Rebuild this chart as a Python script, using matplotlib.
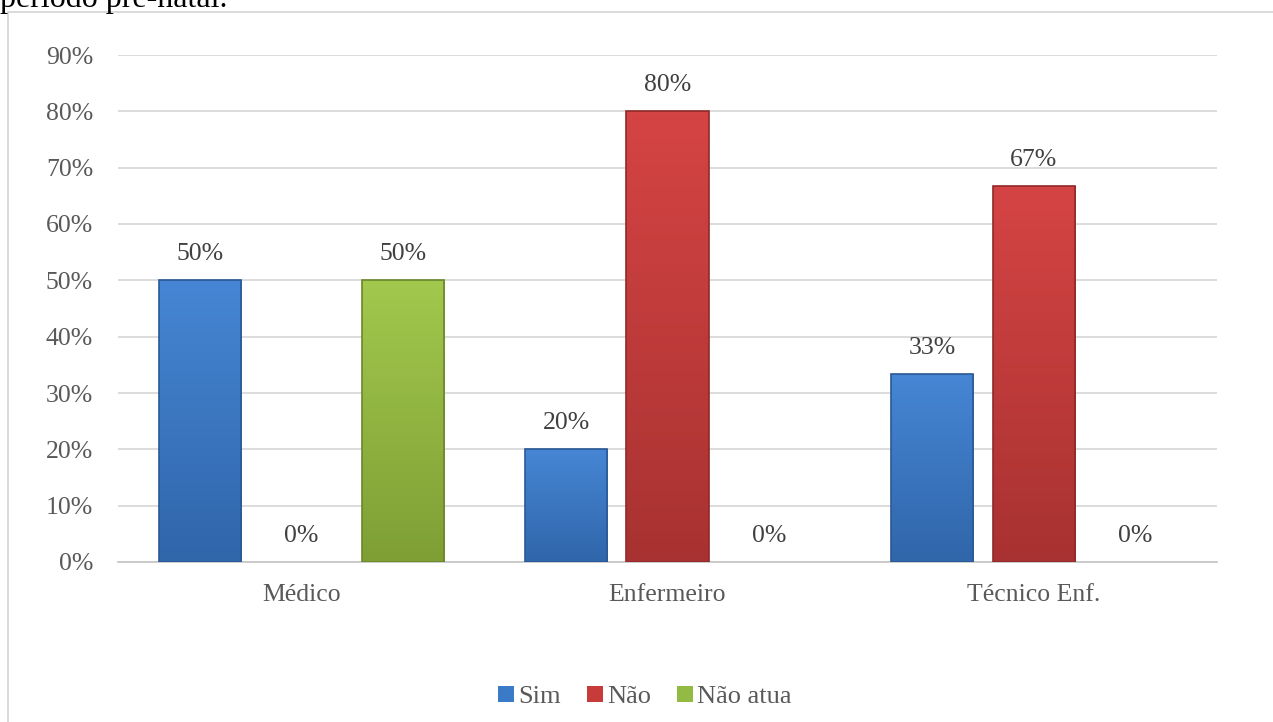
import matplotlib.pyplot as plt
from matplotlib.patches import Rectangle
from matplotlib.colors import LinearSegmentedColormap
import numpy as np

plt.rcParams['font.family'] = ['Liberation Serif', 'DejaVu Serif']

# categorias e valores (%)
categorias = ['Médico', 'Enfermeiro', 'Técnico Enf.']
sim = [50, 20, 33.3]
nao = [0, 80, 66.7]
nao_atua = [50, 0, 0]
rotulos_sim = ['50%', '20%', '33%']
rotulos_nao = ['0%', '80%', '67%']
rotulos_atua = ['50%', '0%', '0%']

# nome, valores, rótulos, cor média, topo, base, borda
series = [
    ('Sim', sim, rotulos_sim, '#3b7ac6', '#4686d4', '#3066aa', '#2a5996'),
    ('Não', nao, rotulos_nao, '#c73c3a', '#d54444', '#a83231', '#8e2a28'),
    ('Não atua', nao_atua, rotulos_atua, '#93ba42', '#a2c84d', '#7f9f35', '#6a872c'),
]

fig = plt.figure(figsize=(12.73, 7.22), dpi=100)

# moldura do gráfico
fig.patches.append(Rectangle((8 / 1273, -0.05), 1.1, 1 - 12 / 722 + 0.05,
                             transform=fig.transFigure, fill=False,
                             edgecolor='#d4d4d4', linewidth=1.2))

# texto cortado no topo (como no original)
fig.text(0.0, 1 - 7 / 722, 'período pré-natal.', fontsize=23, color='black',
         va='baseline', ha='left')

ax = fig.add_axes([118 / 1273, 1 - 562 / 722, (1217 - 118) / 1273, (562 - 55) / 722])

x = np.arange(len(categorias))
largura = 0.224
desloc = 0.277
grad = np.linspace(1, 0, 100).reshape(-1, 1)

for i, (nome, vals, rots, cor, topo, base, borda) in enumerate(series):
    pos = x + (i - 1) * desloc
    alturas = [v / 100 for v in vals]
    barras = ax.bar(pos, alturas, largura, color=cor, edgecolor='none',
                    label=nome, zorder=3)
    cmap = LinearSegmentedColormap.from_list(nome, [base, topo])
    for b, r in zip(barras, rots):
        h = b.get_height()
        x0, w = b.get_x(), b.get_width()
        if h > 0:
            # gradiente vertical dentro da barra
            ax.imshow(grad, cmap=cmap, extent=(x0, x0 + w, 0, h), aspect='auto',
                      zorder=3.5, interpolation='bicubic')
            ax.add_patch(Rectangle((x0, 0), w, h, fill=False, edgecolor=borda,
                                   linewidth=1.2, zorder=4))
        ax.annotate(r, (x0 + w / 2, h), xytext=(0, 19), textcoords='offset points',
                    ha='center', va='center', fontsize=18.5, color='#404040')

ax.set_xlim(-0.5, 2.5)
ax.set_ylim(0, 0.9)
ticks = np.arange(0, 0.91, 0.1)
ax.set_yticks(ticks)
ax.set_yticklabels([f'{int(round(t * 100))}%' for t in ticks])
ax.set_xticks(x)
ax.set_xticklabels(categorias)
ax.tick_params(axis='both', length=0, labelsize=18.5, labelcolor='#595959')
ax.tick_params(axis='y', pad=18)
ax.tick_params(axis='x', pad=16)

ax.grid(axis='y', color='#d9d9d9', linewidth=1.3, zorder=0)
for s in ['top', 'right', 'left']:
    ax.spines[s].set_visible(False)
ax.spines['bottom'].set_color('#c8c8c8')
ax.spines['bottom'].set_linewidth(1.3)

leg = fig.legend(loc='center', bbox_to_anchor=(645 / 1273, 1 - 697 / 722), ncol=3,
                 frameon=False, fontsize=19, handlelength=0.6, handleheight=0.6,
                 handletextpad=0.15, columnspacing=1.0)
for t in leg.get_texts():
    t.set_color('#595959')

fig.savefig('out.png', dpi=100)
